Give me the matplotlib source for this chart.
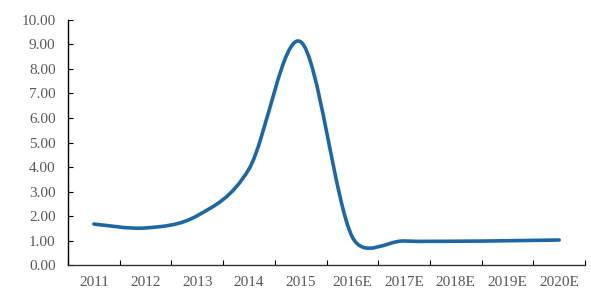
import numpy as np
import matplotlib.pyplot as plt
from matplotlib.path import Path
from matplotlib.patches import PathPatch

years = ["2011", "2012", "2013", "2014", "2015",
         "2016E", "2017E", "2018E", "2019E", "2020E"]
values = [1.68, 1.52, 2.02, 3.92, 9.10, 1.15, 0.99, 0.98, 1.00, 1.03]
yticks = [0, 1, 2, 3, 4, 5, 6, 7, 8, 9, 10]


def smooth_path(pts):
    # excel-ish bezier smoothing, handles capped at half the segment
    n = len(pts)
    tang = [(pts[min(i + 1, n - 1)] - pts[max(i - 1, 0)]) / 6 for i in range(n)]
    verts = [pts[0]]
    codes = [Path.MOVETO]
    for i in range(n - 1):
        p0, p1 = pts[i], pts[i + 1]
        half = np.hypot(*(p1 - p0)) / 2
        t0, t1 = tang[i].copy(), tang[i + 1].copy()
        l0, l1 = np.hypot(*t0), np.hypot(*t1)
        if l0 > half:
            t0 *= half / l0
        if l1 > half:
            t1 *= half / l1
        verts += [p0 + t0, p1 - t1, p1]
        codes += [Path.CURVE4] * 3
    return np.array(verts), codes


fig = plt.figure(figsize=(5.91, 2.99), dpi=100)
ax = fig.add_axes([68 / 591, 1 - 265.3 / 299, 517 / 591, 245.6 / 299])

ax.set_xlim(-0.5, len(years) - 0.5)
ax.set_ylim(0, 10)

x = np.arange(len(years))
disp = ax.transData.transform(np.column_stack([x, values]))
verts, codes = smooth_path(disp)
verts = ax.transData.inverted().transform(verts)
ax.add_patch(PathPatch(Path(verts, codes), facecolor="none",
                       edgecolor="#1c68a6", lw=2.6,
                       capstyle="round", joinstyle="round"))

font = dict(family="Liberation Serif", size=11, color="#595959")
ax.set_yticks(yticks)
ax.set_yticklabels([f"{v:.2f}" for v in yticks], **font)
ax.set_xticks(np.arange(-0.5, len(years), 1.0))
ax.set_xticklabels([])
ax.set_xticks(x, minor=True)
ax.set_xticklabels(years, minor=True, **font)

ax.tick_params(axis="y", direction="in", length=3.5, width=0.8, pad=9)
ax.tick_params(axis="x", which="major", direction="in", length=3.5, width=0.8)
ax.tick_params(axis="x", which="minor", length=0, pad=8)

for s in ["top", "right"]:
    ax.spines[s].set_visible(False)
ax.spines["left"].set_color("black")
ax.spines["bottom"].set_color("#333333")
ax.spines["left"].set_linewidth(1.0)
ax.spines["bottom"].set_linewidth(1.0)

fig.savefig("out.png", dpi=100)
